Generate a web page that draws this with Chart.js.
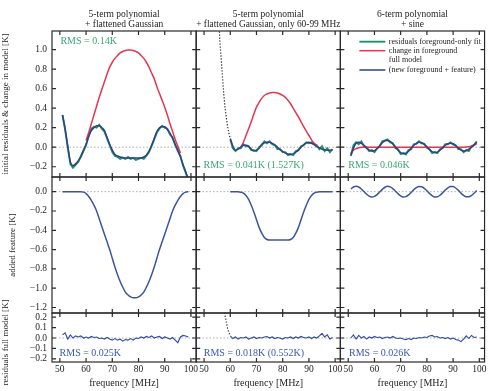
<!DOCTYPE html>
<html>
<head>
<meta charset="utf-8">
<script src="https://cdn.jsdelivr.net/npm/chart.js@4.4.1/dist/chart.umd.min.js"></script>
<style>
  html, body { margin: 0; padding: 0; background: #fff; }
  canvas { display: block; }
</style>
</head>
<body>
<canvas id="myChart" width="493" height="391"></canvas>
<script>
// frequency grid (MHz)
const freq = [51, 52, 53, 54, 55, 56, 57, 58, 59, 60, 61, 62, 63, 64, 65, 66, 67, 68, 69, 70,
  71, 72, 73, 74, 75, 76, 77, 78, 79, 80, 81, 82, 83, 84, 85, 86, 87, 88, 89, 90,
  91, 92, 93, 94, 95, 96, 97, 98, 99];
const freqFit = [60, 61, 62, 63, 64, 65, 66, 67, 68, 69, 70, 71, 72, 73, 74, 75, 76, 77, 78, 79,
  80, 81, 82, 83, 84, 85, 86, 87, 88, 89, 90, 91, 92, 93, 94, 95, 96, 97, 98, 99];

// column 1: 5-term polynomial + flattened Gaussian
const resid1 = [0.33, 0.18, 0.00, -0.17, -0.21, -0.18, -0.15, -0.10, -0.04, 0.02,
  0.12, 0.19, 0.21, 0.20, 0.23, 0.19, 0.16, 0.09, 0.02, -0.05,
  -0.09, -0.10, -0.12, -0.11, -0.12, -0.10, -0.12, -0.11, -0.13, -0.12,
  -0.11, -0.12, -0.09, -0.05, 0.01, 0.08, 0.15, 0.19, 0.22, 0.20,
  0.19, 0.13, 0.10, 0.02, -0.04, -0.09, -0.19, -0.26, -0.34];
const model1 = [0.33, 0.19, 0.01, -0.15, -0.19, -0.17, -0.14, -0.09, -0.03, 0.03,
  0.11, 0.17, 0.20, 0.22, 0.22, 0.20, 0.17, 0.10, 0.03, -0.03,
  -0.075, -0.09, -0.10, -0.105, -0.11, -0.11, -0.11, -0.11, -0.11, -0.11,
  -0.11, -0.10, -0.08, -0.04, 0.02, 0.09, 0.16, 0.20, 0.21, 0.21,
  0.18, 0.145, 0.09, 0.03, -0.03, -0.10, -0.18, -0.25, -0.33];
const changeFreq1 = [60, 61, 62, 63, 64, 65, 66, 67, 68, 69, 70, 71, 72, 73, 74, 75, 76, 77, 78,
  79, 80, 81, 82, 83, 84, 85, 86, 87, 88, 89, 90, 91, 92, 93, 94, 95, 96];
const change1 = [0.07, 0.15, 0.24, 0.33, 0.42, 0.51, 0.59, 0.67, 0.75, 0.82, 0.87,
  0.91, 0.94, 0.965, 0.98, 0.99, 0.995, 0.995, 0.99, 0.98, 0.965,
  0.94, 0.91, 0.87, 0.82, 0.76, 0.70, 0.62, 0.55, 0.48, 0.41,
  0.33, 0.24, 0.16, 0.08, 0.01, -0.06];
const feature1 = [0, 0, 0, 0, 0, 0, 0, 0, -0.005, -0.02,
  -0.05, -0.09, -0.14, -0.20, -0.28, -0.36, -0.44, -0.52, -0.60, -0.69,
  -0.78, -0.86, -0.93, -0.99, -1.04, -1.07, -1.09, -1.10, -1.10, -1.09,
  -1.07, -1.04, -0.99, -0.93, -0.86, -0.78, -0.69, -0.60, -0.52, -0.44,
  -0.36, -0.28, -0.20, -0.14, -0.09, -0.05, -0.02, -0.005, 0];
const full1 = [0.03, 0.05, -0.01, 0.03, 0.00, 0.02, 0.01, 0.02, 0.00, 0.01,
  0.00, 0.015, 0.005, 0.01, -0.005, 0.00, -0.01, 0.005, -0.01, -0.02,
  -0.005, -0.02, -0.01, -0.03, -0.015, -0.02, -0.005, -0.02, 0.00, -0.005,
  0.01, 0.00, 0.015, 0.005, 0.02, 0.00, 0.01, 0.015, -0.005, 0.01,
  0.00, -0.01, 0.005, -0.02, -0.045, 0.01, 0.025, 0.02, 0.01];

// column 2: 5-term polynomial + flattened Gaussian, fit only 60-99 MHz
const resid2 = [0.08, -0.01, -0.04, -0.01, -0.01, 0.03, 0.01, 0.01, -0.03, -0.03,
  -0.04, 0.00, 0.02, 0.06, 0.04, 0.06, 0.03, 0.02, -0.02, -0.02,
  -0.05, -0.05, -0.08, -0.07, -0.08, -0.04, -0.03, 0.01, 0.02, 0.05,
  0.04, 0.05, 0.03, 0.02, -0.02, 0.01, -0.04, -0.01, -0.05, -0.02];
const model2 = [0.09, 0.01, -0.03, -0.02, 0.00, 0.02, 0.02, 0.01, -0.02, -0.04,
  -0.03, -0.01, 0.03, 0.045, 0.05, 0.05, 0.04, 0.025, 0.00, -0.025,
  -0.045, -0.06, -0.07, -0.075, -0.068, -0.05, -0.03, 0.00, 0.025, 0.045,
  0.05, 0.04, 0.027, 0.005, -0.007, -0.02, -0.025, -0.03, -0.03, -0.025];
const extrapFreq2 = [55.5, 56, 56.5, 57, 57.5, 58, 58.5, 59, 59.5, 60];
const extrap2 = [1.4, 1.1, 0.92, 0.73, 0.55, 0.41, 0.30, 0.21, 0.14, 0.09];
const changeFreq2 = [64, 65, 66, 67, 68, 69, 70, 71, 72, 73, 74, 75, 76, 77, 78,
  79, 80, 81, 82, 83, 84, 85, 86, 87, 88, 89, 90, 91, 92, 93];
const change2 = [0.0, 0.05, 0.12, 0.19, 0.26, 0.34, 0.41, 0.46, 0.50, 0.53,
  0.545, 0.555, 0.56, 0.56, 0.555, 0.545, 0.53, 0.51, 0.48, 0.445,
  0.40, 0.355, 0.31, 0.26, 0.21, 0.165, 0.12, 0.075, 0.04, 0.02];
const feature2 = [0, 0, 0, 0, -0.005, -0.015, -0.04, -0.08, -0.14, -0.21,
  -0.29, -0.37, -0.43, -0.475, -0.495, -0.50, -0.50, -0.50, -0.50, -0.50,
  -0.50, -0.50, -0.50, -0.495, -0.475, -0.43, -0.37, -0.29, -0.21, -0.14,
  -0.08, -0.04, -0.015, -0.005, 0, 0, 0, 0, 0, 0];
const full2 = [0.02, -0.005, 0.01, -0.01, 0.005, 0.00, 0.01, -0.01, 0.00, 0.01,
  -0.005, 0.005, 0.00, 0.01, 0.015, 0.00, 0.01, -0.005, 0.005, 0.00,
  -0.01, 0.005, 0.00, 0.01, -0.005, 0.01, 0.00, 0.015, 0.005, 0.00,
  0.01, -0.005, 0.01, 0.00, 0.02, 0.045, 0.01, 0.03, -0.01, 0.005];
const extrapFullFreq2 = [57.5, 58, 58.5, 59, 59.5, 60];
const extrapFull2 = [0.30, 0.22, 0.15, 0.09, 0.05, 0.02];

// column 3: 6-term polynomial + sine
const resid3 = [-0.09, 0.02, 0.05, 0.03, 0.06, 0.01, 0.00, -0.04, -0.03, -0.05,
  -0.01, 0.01, 0.06, 0.07, 0.08, 0.05, 0.04, -0.01, -0.02, -0.07,
  -0.06, -0.075, -0.03, -0.02, 0.03, 0.035, 0.06, 0.04, 0.035, -0.005,
  -0.02, -0.06, -0.05, -0.06, -0.02, -0.01, 0.03, 0.03, 0.05, 0.03,
  0.02, -0.02, -0.02, -0.05, -0.03, -0.04, 0.01, 0.02, 0.06];
const model3 = [-0.08, -0.01, 0.04, 0.05, 0.04, 0.02, -0.01, -0.03, -0.04, -0.035,
  -0.015, 0.015, 0.045, 0.065, 0.07, 0.06, 0.035, 0.005, -0.03, -0.055,
  -0.065, -0.06, -0.04, -0.01, 0.02, 0.04, 0.05, 0.045, 0.03, 0.005,
  -0.025, -0.045, -0.055, -0.05, -0.03, -0.005, 0.02, 0.035, 0.04, 0.035,
  0.015, -0.01, -0.03, -0.04, -0.035, -0.02, 0.00, 0.025, 0.05];
const changeFreq3 = [51, 52, 53, 54, 55, 65, 75, 85, 94, 96, 97, 98, 99];
const change3 = [-0.06, -0.03, -0.015, -0.005, 0, 0, 0, 0, 0, 0.005, 0.01, 0.02, 0.035];
const feature3 = [0.028, 0.048, 0.055, 0.048, 0.028, 0.001, -0.026, -0.047, -0.055, -0.049,
  -0.030, -0.003, 0.024, 0.046, 0.055, 0.050, 0.032, 0.005, -0.022, -0.044,
  -0.055, -0.051, -0.033, -0.007, 0.021, 0.043, 0.054, 0.051, 0.035, 0.010,
  -0.019, -0.042, -0.054, -0.052, -0.037, -0.012, 0.017, 0.040, 0.054, 0.053,
  0.038, 0.014, -0.015, -0.039, -0.053, -0.053, -0.040, -0.016, 0.012];
const full3 = [0.00, 0.03, -0.01, 0.025, 0.00, 0.015, -0.01, 0.01, 0.00, 0.015,
  0.005, 0.01, -0.005, 0.005, 0.01, 0.00, 0.015, 0.00, -0.005, 0.00,
  -0.01, -0.015, -0.005, -0.015, 0.00, -0.005, 0.005, 0.00, 0.01, 0.005,
  0.02, 0.025, 0.01, 0.015, 0.00, 0.005, -0.005, 0.005, -0.01, 0.00,
  -0.015, -0.02, -0.035, -0.01, 0.02, -0.005, 0.025, 0.005, 0.01];

// ticks and texts
const xTicks = [50, 60, 70, 80, 90, 100];
const topTicks = [-0.2, 0, 0.2, 0.4, 0.6, 0.8, 1.0];
const midTicks = [0, -0.2, -0.4, -0.6, -0.8, -1.0, -1.2];
const lowTicks = [-0.2, -0.1, 0, 0.1, 0.2];
const columnTitles = [
  ['5-term polynomial', '+ flattened Gaussian'],
  ['5-term polynomial', '+ flattened Gaussian, only 60-99 MHz'],
  ['6-term polynomial', '+ sine']
];
const rowTitles = ['initial residuals & change in model [K]', 'added feature [K]', 'residuals full model [K]'];
const rmsTop = ['RMS = 0.14K', 'RMS = 0.041K (1.527K)', 'RMS = 0.046K'];
const rmsLow = ['RMS = 0.025K', 'RMS = 0.018K (0.552K)', 'RMS = 0.026K'];
const legendLabels = [['residuals foreground-only fit'], ['change in foreground'], ['full model', '(new foreground + feature)']];

const SERIF = "'Liberation Serif', 'DejaVu Serif', serif";
const INK = '#1e1e1e';
const GREEN = '#23916a';
const GREEN_TEXT = '#3aa874';
const RED = '#e5364f';
const BLUE = '#2e4285';
const BLUE_FEAT = '#3d54a0';
const BLUE_TEXT = '#3a58b0';

Chart.defaults.font.family = SERIF;

function pts(xs, ys) {
  return xs.map((x, i) => ({ x: x, y: ys[i] }));
}

function series(label, xs, ys, col, row, style) {
  return Object.assign({
    label: label,
    data: pts(xs, ys),
    xAxisID: 'x' + col,
    yAxisID: 'y' + row,
    pointRadius: 0,
    fill: false,
    borderWidth: 1.4
  }, style);
}

const greenStyle = { borderColor: GREEN, borderWidth: 1.9, order: 3 };
const redStyle = { borderColor: RED, borderWidth: 1.5, cubicInterpolationMode: 'monotone', order: 2 };
const blueStyle = { borderColor: BLUE, borderWidth: 1.5, cubicInterpolationMode: 'monotone', order: 1 };
const dotStyle = { borderColor: '#1a1a1a', borderWidth: 1.2, borderDash: [1.2, 1.8], order: 1 };
const featStyle = { borderColor: BLUE_FEAT, borderWidth: 1.5, cubicInterpolationMode: 'monotone', order: 1 };
const fullStyle = { borderColor: '#3049a0', borderWidth: 1.1, order: 1 };

const datasets = [
  series('residuals foreground-only fit', freq, resid1, 1, 1, greenStyle),
  series('change in foreground', changeFreq1, change1, 1, 1, redStyle),
  series('full model', freq, model1, 1, 1, blueStyle),
  series('added feature', freq, feature1, 1, 2, featStyle),
  series('residuals full model', freq, full1, 1, 3, fullStyle),

  series('residuals foreground-only fit', freqFit, resid2, 2, 1, greenStyle),
  series('change in foreground', changeFreq2, change2, 2, 1, redStyle),
  series('full model', freqFit, model2, 2, 1, blueStyle),
  series('extrapolation', extrapFreq2, extrap2, 2, 1, dotStyle),
  series('added feature', freqFit, feature2, 2, 2, featStyle),
  series('residuals full model', freqFit, full2, 2, 3, fullStyle),
  series('extrapolation', extrapFullFreq2, extrapFull2, 2, 3, dotStyle),

  series('residuals foreground-only fit', freq, resid3, 3, 1, greenStyle),
  series('change in foreground', changeFreq3, change3, 3, 1, redStyle),
  series('full model', freq, model3, 3, 1, blueStyle),
  series('added feature', freq, feature3, 3, 2, featStyle),
  series('residuals full model', freq, full3, 3, 3, fullStyle)
];

function yLabel(v) {
  return v.toFixed(1).replace('-', '\u2212');
}

function xBottom(i) {
  return {
    type: 'linear', position: 'bottom', stack: 'cols', stackWeight: 1, weight: i,
    min: 47, max: 102,
    afterBuildTicks: s => { s.ticks = xTicks.map(v => ({ value: v })); },
    afterFit: s => { s.height = 29; },
    grid: { display: false, drawTicks: false },
    border: { display: false },
    ticks: { padding: 2, autoSkip: false, maxRotation: 0, color: INK, font: { size: 9.5 }, callback: v => String(v) },
    title: { display: true, text: 'frequency [MHz]', color: INK, font: { size: 10 }, padding: { top: 0, bottom: 1.5 } }
  };
}

function xTop(i) {
  return {
    type: 'linear', position: 'top', stack: 'heads', stackWeight: 1, weight: 4 - i,
    min: 47, max: 102, display: true,
    afterFit: s => { s.height = 31; },
    grid: { display: false, drawTicks: false },
    border: { display: false },
    ticks: { display: false },
    title: { display: true, text: columnTitles[i - 1], color: INK, font: { size: 9.5, lineHeight: 1.1 }, padding: { top: 9, bottom: 0 } }
  };
}

function yLeft(i, min, max, ticks, rowWeight, titleText, titlePad) {
  return {
    type: 'linear', position: 'left', stack: 'rows', stackWeight: rowWeight, weight: 4 - i,
    min: min, max: max,
    afterBuildTicks: s => { s.ticks = ticks.map(v => ({ value: v })); },
    afterFit: s => { s.width = 52; },
    grid: { display: false, drawTicks: false },
    border: { display: false },
    ticks: { padding: 5, autoSkip: false, color: INK, font: { size: 9.5 }, callback: v => yLabel(v) },
    title: { display: titleText !== '', text: titleText, color: INK, font: { size: 9, lineHeight: 1.2 }, padding: { top: titlePad, bottom: 0 } }
  };
}

const panels = {
  id: 'panels',
  beforeDatasetsDraw(chart) {
    const ctx = chart.ctx;
    const area = chart.chartArea;
    ctx.save();
    ctx.strokeStyle = '#9a9a9a';
    ctx.lineWidth = 0.8;
    ctx.setLineDash([1.5, 2]);
    ['y1', 'y2', 'y3'].forEach(id => {
      const y = chart.scales[id].getPixelForValue(0);
      ctx.beginPath();
      ctx.moveTo(area.left, y);
      ctx.lineTo(area.right, y);
      ctx.stroke();
    });
    ctx.restore();
  },
  afterDatasetsDraw(chart) {
    const ctx = chart.ctx;
    const s = chart.scales;
    const cols = ['x1', 'x2', 'x3'];
    const rows = ['y1', 'y2', 'y3'];
    const yTickSets = [topTicks, midTicks, lowTicks];

    ctx.save();
    ctx.strokeStyle = '#2a2a2a';
    ctx.lineWidth = 1.2;
    cols.forEach(cx => rows.forEach((ry, j) => {
      const xs = s[cx], ys = s[ry];
      ctx.strokeRect(xs.left, ys.top, xs.right - xs.left, ys.bottom - ys.top);
      ctx.beginPath();
      xTicks.forEach(v => {
        const p = xs.getPixelForValue(v);
        ctx.moveTo(p, ys.top); ctx.lineTo(p, ys.top + 4);
        ctx.moveTo(p, ys.bottom); ctx.lineTo(p, ys.bottom - 4);
      });
      yTickSets[j].forEach(v => {
        const p = ys.getPixelForValue(v);
        ctx.moveTo(xs.left, p); ctx.lineTo(xs.left + 4, p);
        ctx.moveTo(xs.right, p); ctx.lineTo(xs.right - 4, p);
      });
      ctx.stroke();
    }));

    // RMS annotations
    ctx.font = '10px ' + SERIF;
    ctx.textBaseline = 'middle';
    ctx.textAlign = 'left';
    const topSpots = [[50.2, 1.08], [49.8, -0.19], [50.0, -0.19]];
    topSpots.forEach((p, i) => {
      ctx.fillStyle = GREEN_TEXT;
      ctx.fillText(rmsTop[i], s[cols[i]].getPixelForValue(p[0]), s.y1.getPixelForValue(p[1]));
    });
    rmsLow.forEach((t, i) => {
      ctx.fillStyle = BLUE_TEXT;
      ctx.fillText(t, s[cols[i]].getPixelForValue(i === 2 ? 50.3 : 49.9), s.y3.getPixelForValue(-0.15));
    });

    // legend in the top-right panel
    const lx = s.x3.left, ly = s.y1.top;
    const legendColors = [GREEN, RED, BLUE];
    const lineY = [10.7, 19.7, 39];
    const textY = [[10.7], [19.7], [29, 38.5]];
    ctx.font = '8px ' + SERIF;
    ctx.fillStyle = INK;
    legendLabels.forEach((lab, i) => {
      ctx.strokeStyle = legendColors[i];
      ctx.lineWidth = i === 0 ? 1.9 : 1.5;
      ctx.beginPath();
      ctx.moveTo(lx + 19, ly + lineY[i]);
      ctx.lineTo(lx + 45, ly + lineY[i]);
      ctx.stroke();
      lab.forEach((line, k) => ctx.fillText(line, lx + 48.5, ly + textY[i][k]));
    });

    // row 3 axis title (longer than its row)
    ctx.font = '9px ' + SERIF;
    ctx.fillStyle = INK;
    ctx.textAlign = 'center';
    ctx.translate(5.5, (s.y3.top + s.y3.bottom) / 2 + 5);
    ctx.rotate(-Math.PI / 2);
    ctx.fillText(rowTitles[2], 0, 0);
    ctx.restore();
  }
};

const config = {
  type: 'line',
  data: { datasets: datasets },
  options: {
    responsive: false,
    animation: false,
    events: [],
    layout: { padding: { left: 0, right: 2, top: 0, bottom: 0 } },
    plugins: { legend: { display: false }, tooltip: { enabled: false } },
    scales: {
      x1: xBottom(1), x2: xBottom(2), x3: xBottom(3),
      t1: xTop(1), t2: xTop(2), t3: xTop(3),
      y1: yLeft(1, -0.305, 1.19, topTicks, 146, rowTitles[0], 0),
      y2: yLeft(2, -1.257, 0.152, midTicks, 136, rowTitles[1], 7),
      y3: yLeft(3, -0.23, 0.24, lowTicks, 49, '', 0)
    }
  },
  plugins: [panels]
};

const myChart = new Chart(document.getElementById('myChart'), config);
</script>
</body>
</html>
